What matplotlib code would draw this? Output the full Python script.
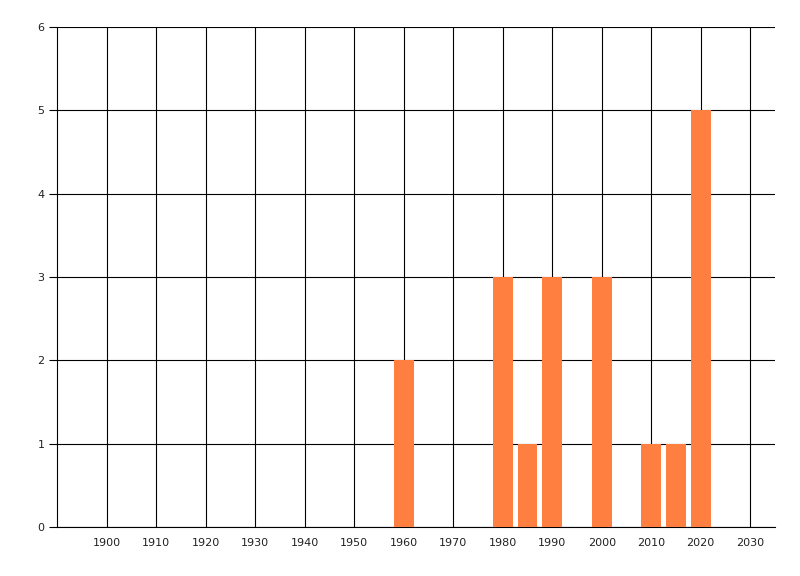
import matplotlib.pyplot as plt

years = [1960, 1980, 1985, 1990, 2000, 2010, 2015, 2020]
counts = [2, 3, 1, 3, 3, 1, 1, 5]
xticks = list(range(1900, 2031, 10))
yticks = [0, 1, 2, 3, 4, 5, 6]

fig = plt.figure(figsize=(8, 5.76), dpi=100)
ax = fig.add_axes([57 / 800, 1 - 527 / 576, 718 / 800, 500 / 576])

ax.set_axisbelow(True)
ax.bar(years, counts, width=4, color="#FF7F41", zorder=3)

ax.set_xlim(1890, 2035)
ax.set_ylim(0, 6)
ax.set_xticks(xticks)
ax.set_yticks(yticks)
ax.grid(True, color="black", linewidth=0.8)

for s in ["top", "right"]:
    ax.spines[s].set_visible(False)
for s in ["left", "bottom"]:
    ax.spines[s].set_linewidth(0.8)

ax.tick_params(axis="y", length=6, width=0.8, pad=3, labelsize=8, labelcolor="#222222")
ax.tick_params(axis="x", length=0, pad=8, labelsize=8, labelcolor="#222222")

plt.savefig("out.png", dpi=100)
